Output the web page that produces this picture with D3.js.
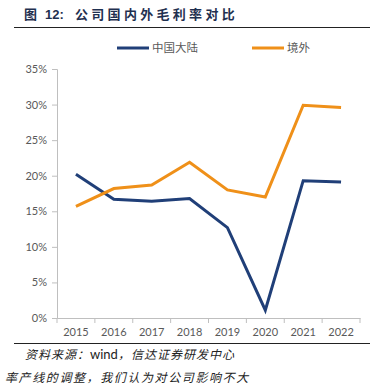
<!DOCTYPE html>
<html>
<head>
<meta charset="utf-8">
<script src="https://cdn.jsdelivr.net/npm/d3@7"></script>
<style>
  body { margin: 0; background: #fff; }
  svg { display: block; }
</style>
</head>
<body>
<div id="chart"></div>
<script>
// data
var years = ['2015', '2016', '2017', '2018', '2019', '2020', '2021', '2022'];
var mainland = [20.2, 16.7, 16.4, 16.8, 12.7, 1.1, 19.3, 19.1];
var overseas = [15.7, 18.2, 18.7, 21.9, 18.0, 17.0, 29.9, 29.6];
var seriesNames = ['中国大陆', '境外'];
var yTicks = [0, 5, 10, 15, 20, 25, 30, 35];

var colors = ['#203f78', '#ef9019'];
var cjk = '"Noto Sans CJK SC", "Noto Sans", sans-serif';
var num = 'Lato, "Liberation Sans", sans-serif';

var svgWidth = 376, svgHeight = 384;
var plot = { left: 57, right: 360, top: 69, bottom: 318 };

var svg = d3.select('#chart').append('svg')
	.attr('width', svgWidth)
	.attr('height', svgHeight);

// title
var titleAttrs = function(t) {
	return t.attr('y', 19)
		.attr('fill', '#1f3050')
		.attr('font-weight', 'bold')
		.attr('font-size', 13);
};
titleAttrs(svg.append('text')).attr('x', 24).attr('font-family', cjk).text('图');
titleAttrs(svg.append('text')).attr('x', 45).attr('font-family', '"Liberation Sans", Arial, sans-serif').text('12:');
titleAttrs(svg.append('text')).attr('x', 75).attr('font-family', cjk)
	.style('letter-spacing', '3.3px')
	.text('公司国内外毛利率对比');

svg.append('line')
	.attr('x1', 14).attr('x2', 370)
	.attr('y1', 27.5).attr('y2', 27.5)
	.attr('stroke', '#222').attr('stroke-width', 1);

// scales
var x = d3.scaleBand()
	.domain(years)
	.range([plot.left, plot.right]);

var y = d3.scaleLinear()
	.domain([0, 35])
	.range([plot.bottom, plot.top]);

// y axis
var yAxis = svg.append('g')
	.attr('transform', 'translate(' + plot.left + ',0)')
	.call(d3.axisLeft(y).tickValues(yTicks).tickSize(5).tickPadding(5)
		.tickFormat(function(d) { return d + '%'; }));

// x axis, ticks on band edges
var xAxis = svg.append('g')
	.attr('transform', 'translate(0,' + plot.bottom + ')')
	.call(d3.axisBottom(x).tickSize(0).tickPadding(10));

xAxis.selectAll('.edge')
	.data(years.concat(['end']))
	.enter().append('line')
	.attr('class', 'edge')
	.attr('x1', function(d, i) { return plot.left + i * x.bandwidth(); })
	.attr('x2', function(d, i) { return plot.left + i * x.bandwidth(); })
	.attr('y1', 0).attr('y2', 5)
	.attr('stroke', '#bfbfbf');

[xAxis, yAxis].forEach(function(a) {
	a.select('.domain').attr('stroke', '#bfbfbf');
	a.selectAll('.tick line').attr('stroke', '#bfbfbf');
	a.selectAll('.tick text')
		.attr('fill', '#595959')
		.attr('font-family', num)
		.attr('font-size', 11);
});

// lines
var line = d3.line()
	.x(function(d, i) { return x(years[i]) + x.bandwidth() / 2; })
	.y(function(d) { return y(d); });

[mainland, overseas].forEach(function(s, i) {
	svg.append('path')
		.datum(s)
		.attr('d', line)
		.attr('fill', 'none')
		.attr('stroke', colors[i])
		.attr('stroke-width', 3)
		.attr('stroke-linejoin', 'miter');
});

// legend
var legendX = [117, 252];
seriesNames.forEach(function(name, i) {
	svg.append('line')
		.attr('x1', legendX[i]).attr('x2', legendX[i] + 32)
		.attr('y1', 48).attr('y2', 48)
		.attr('stroke', colors[i]).attr('stroke-width', 3);
	svg.append('text')
		.attr('x', legendX[i] + 35)
		.attr('y', 52)
		.attr('fill', '#595959')
		.attr('font-family', cjk)
		.attr('font-size', 11.5)
		.text(name);
});

// footer
svg.append('line')
	.attr('x1', 14).attr('x2', 370)
	.attr('y1', 343.5).attr('y2', 343.5)
	.attr('stroke', '#222').attr('stroke-width', 1);

var src = svg.append('text')
	.attr('x', 25)
	.attr('y', 359)
	.attr('fill', '#222')
	.attr('font-family', cjk)
	.attr('font-size', 12)
	.attr('font-style', 'italic')
	.style('letter-spacing', '1px');
src.append('tspan').text('资料来源：');
src.append('tspan').attr('font-family', num).attr('font-style', 'normal').attr('font-size', 13).style('letter-spacing', '0px').text('wind');
src.append('tspan').text('，信达证券研发中心');

svg.append('text')
	.attr('x', 5)
	.attr('y', 382)
	.attr('fill', '#222')
	.attr('font-family', cjk)
	.attr('font-size', 12)
	.attr('font-style', 'italic')
	.style('letter-spacing', '1.6px')
	.text('率产线的调整，我们认为对公司影响不大');
</script>
</body>
</html>
